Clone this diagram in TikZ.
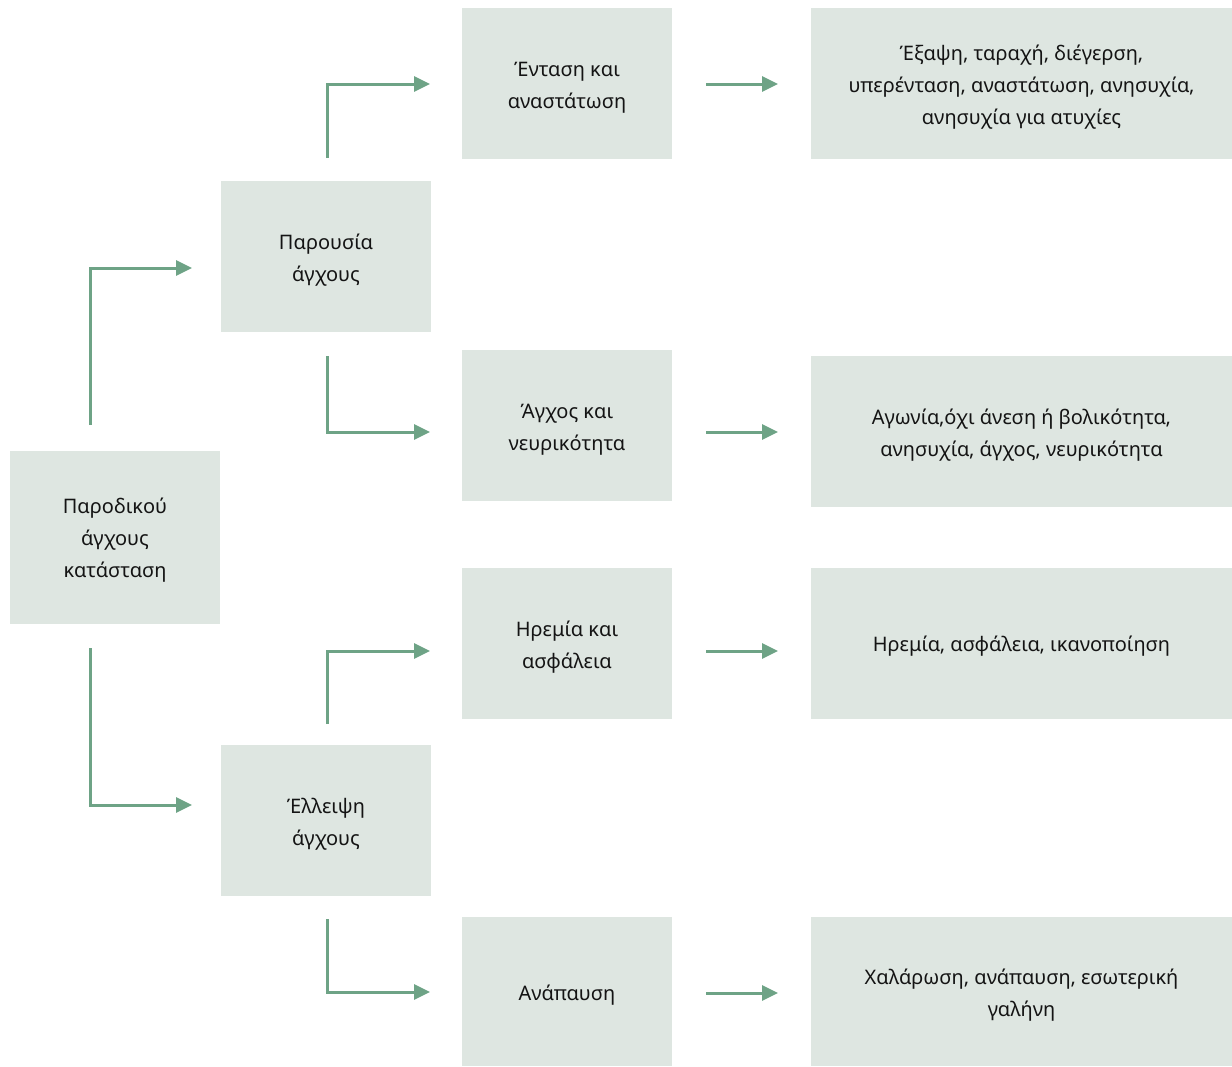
\documentclass[tikz,border=0pt]{standalone}
\usepackage{fontspec}
\setmainfont{Noto Sans}
\usetikzlibrary{arrows.meta}
\definecolor{boxfill}{HTML}{DEE6E1}
\definecolor{arrowc}{HTML}{6EA386}
\definecolor{txt}{HTML}{141414}
\tikzset{
  box/.style={fill=boxfill, draw=none, inner sep=0pt},
  smallbox/.style={box, minimum width=210pt, minimum height=151pt},
  widebox/.style={box, minimum width=421pt, minimum height=151pt},
  lbl/.style={inner sep=0pt, align=center, text=txt, font=\fontsize{20}{32}\selectfont},
  conn/.style={draw=arrowc, line width=3pt, -{Triangle[length=16pt,width=15pt]}}
}
\begin{document}
\begin{tikzpicture}[x=1pt,y=-1pt]
\useasboundingbox (0,0) rectangle (1232,1066);
% level 0
\node[box, minimum width=210pt, minimum height=173pt] (A) at (115,537.5) {};
% level 1
\node[smallbox] (B) at (326,256.5) {};
\node[smallbox] (C) at (326,820.5) {};
% level 2
\node[smallbox] (D1) at (567,83.5) {};
\node[smallbox] (D2) at (567,425.5) {};
\node[smallbox] (D3) at (567,643.5) {};
\node[smallbox, minimum height=149pt] (D4) at (567,991.5) {};
% level 3
\node[widebox] (E1) at (1021.5,83.5) {};
\node[widebox] (E2) at (1021.5,431.5) {};
\node[widebox] (E3) at (1021.5,643.5) {};
\node[widebox, minimum height=149pt] (E4) at (1021.5,991.5) {};
% texts
\node[lbl] (At) at ([yshift=-3pt]A.center) {Παροδικού\\άγχους\\κατάσταση};
\node[lbl] (Bt) at ([yshift=-4pt]B.center) {Παρουσία\\άγχους};
\node[lbl] (Ct) at ([yshift=-4pt]C.center) {Έλλειψη\\άγχους};
\node[lbl] (D1t) at ([yshift=-4pt]D1.center) {Ένταση και\\αναστάτωση};
\node[lbl] (D2t) at ([yshift=-4pt]D2.center) {Άγχος και\\νευρικότητα};
\node[lbl] (D3t) at ([yshift=-4pt]D3.center) {Ηρεμία και\\ασφάλεια};
\node[lbl] (D4t) at ([yshift=-4pt]D4.center) {Ανάπαυση};
\node[lbl] (E1t) at ([yshift=-4pt]E1.center) {Έξαψη, ταραχή, διέγερση,\\υπερένταση, αναστάτωση, ανησυχία,\\ανησυχία για ατυχίες};
\node[lbl] (E2t) at ([yshift=-4pt]E2.center) {Αγωνία,όχι άνεση ή βολικότητα,\\ανησυχία, άγχος, νευρικότητα};
\node[lbl] (E3t) at ([yshift=-3pt]E3.center) {Ηρεμία, ασφάλεια, ικανοποίηση};
\node[lbl] (E4t) at ([yshift=-4pt]E4.center) {Χαλάρωση, ανάπαυση, εσωτερική\\γαλήνη};
% connector coordinates
\coordinate (a1s) at (90,425);  \coordinate (a1t) at (192,268);
\coordinate (a2s) at (90,648);  \coordinate (a2t) at (192,805);
\coordinate (b1s) at (327,158); \coordinate (b1t) at (430,84);
\coordinate (b2s) at (327,356); \coordinate (b2t) at (430,432);
\coordinate (c1s) at (327,724); \coordinate (c1t) at (430,651);
\coordinate (c2s) at (327,919); \coordinate (c2t) at (430,992);
\coordinate (d1s) at (706,84);  \coordinate (d1t) at (778,84);
\coordinate (d2s) at (706,432); \coordinate (d2t) at (778,432);
\coordinate (d3s) at (706,651); \coordinate (d3t) at (778,651);
\coordinate (d4s) at (706,993); \coordinate (d4t) at (778,993);
\draw[conn] (a1s) |- (a1t);
\draw[conn] (a2s) |- (a2t);
\draw[conn] (b1s) |- (b1t);
\draw[conn] (b2s) |- (b2t);
\draw[conn] (c1s) |- (c1t);
\draw[conn] (c2s) |- (c2t);
\draw[conn] (d1s) -- (d1t);
\draw[conn] (d2s) -- (d2t);
\draw[conn] (d3s) -- (d3t);
\draw[conn] (d4s) -- (d4t);
\end{tikzpicture}
\end{document}
